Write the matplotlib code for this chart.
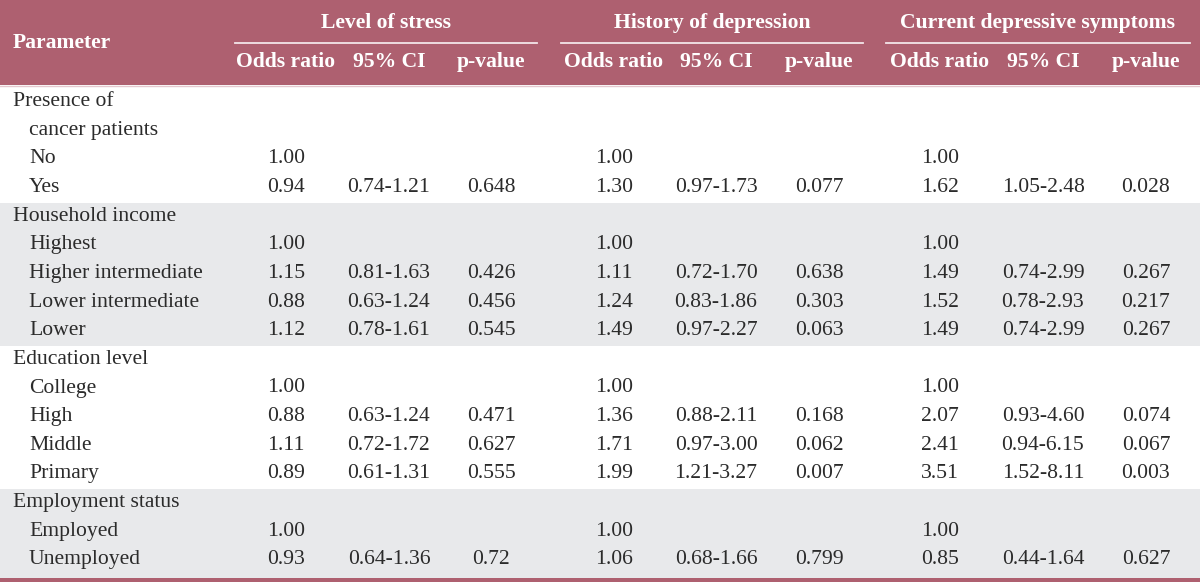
import matplotlib
matplotlib.use("Agg")
import matplotlib.pyplot as plt
from matplotlib.patches import Rectangle

# ---- data ----
groups = ["Level of stress", "History of depression", "Current depressive symptoms"]
subheads = ["Odds ratio", "95% CI", "p-value"]
row_labels = ["Presence of", "cancer patients", "No", "Yes",
              "Household income", "Highest", "Higher intermediate", "Lower intermediate", "Lower",
              "Education level", "College", "High", "Middle", "Primary",
              "Employment status", "Employed", "Unemployed"]
row_indent = [0, 1, 1, 1, 0, 1, 1, 1, 1, 0, 1, 1, 1, 1, 0, 1, 1]
row_band = [0, 0, 0, 0, 1, 1, 1, 1, 1, 0, 0, 0, 0, 0, 1, 1, 1]

stress_or = ["", "", "1.00", "0.94", "", "1.00", "1.15", "0.88", "1.12", "", "1.00", "0.88", "1.11", "0.89", "", "1.00", "0.93"]
stress_ci = ["", "", "", "0.74-1.21", "", "", "0.81-1.63", "0.63-1.24", "0.78-1.61", "", "", "0.63-1.24", "0.72-1.72", "0.61-1.31", "", "", "0.64-1.36"]
stress_p = ["", "", "", "0.648", "", "", "0.426", "0.456", "0.545", "", "", "0.471", "0.627", "0.555", "", "", "0.72"]

hist_or = ["", "", "1.00", "1.30", "", "1.00", "1.11", "1.24", "1.49", "", "1.00", "1.36", "1.71", "1.99", "", "1.00", "1.06"]
hist_ci = ["", "", "", "0.97-1.73", "", "", "0.72-1.70", "0.83-1.86", "0.97-2.27", "", "", "0.88-2.11", "0.97-3.00", "1.21-3.27", "", "", "0.68-1.66"]
hist_p = ["", "", "", "0.077", "", "", "0.638", "0.303", "0.063", "", "", "0.168", "0.062", "0.007", "", "", "0.799"]

curr_or = ["", "", "1.00", "1.62", "", "1.00", "1.49", "1.52", "1.49", "", "1.00", "2.07", "2.41", "3.51", "", "1.00", "0.85"]
curr_ci = ["", "", "", "1.05-2.48", "", "", "0.74-2.99", "0.78-2.93", "0.74-2.99", "", "", "0.93-4.60", "0.94-6.15", "1.52-8.11", "", "", "0.44-1.64"]
curr_p = ["", "", "", "0.028", "", "", "0.267", "0.217", "0.267", "", "", "0.074", "0.067", "0.003", "", "", "0.627"]

columns = [stress_or, stress_ci, stress_p, hist_or, hist_ci, hist_p, curr_or, curr_ci, curr_p]

# ---- layout ----
W, H = 1200, 582
HEAD = "#AE6070"
BAND = "#E8E9EB"
TXT = "#2b2b2b"
FONT = ["Liberation Serif", "DejaVu Serif"]
FS = 15.6

col_x = [286, 389, 491, 614, 716, 819, 940, 1043, 1146]
group_x = [(235, 537), (561, 863), (886, 1190)]
row_y0, row_dy = 101.5, 28.65
header_h = 85

fig = plt.figure(figsize=(W / 100, H / 100), dpi=100)
ax = fig.add_axes([0, 0, 1, 1])
ax.set_xlim(0, W)
ax.set_ylim(H, 0)
ax.axis("off")

ax.add_patch(Rectangle((0, 0), W, header_h, color=HEAD, lw=0))
ax.plot([0, W], [header_h + 0.5, header_h + 0.5], color="#E4C8CE", lw=1)

ax.text(13, 43, "Parameter", ha="left", va="center", color="white",
        fontsize=FS, fontweight="bold", family=FONT)
for g, (x0, x1) in zip(groups, group_x):
    ax.text((x0 + x1) / 2, 23, g, ha="center", va="center", color="white",
            fontsize=FS, fontweight="bold", family=FONT)
    ax.plot([x0, x1], [43, 43], color="#F3E6E9", lw=1.3)
for i, x in enumerate(col_x):
    ax.text(x, 62, subheads[i % 3], ha="center", va="center", color="white",
            fontsize=FS, fontweight="bold", family=FONT)

# bands
n = len(row_labels)
i = 0
while i < n:
    if row_band[i]:
        j = i
        while j < n and row_band[j]:
            j += 1
        top = row_y0 + (i - 0.5) * row_dy + 1
        bot = row_y0 + (j - 0.5) * row_dy + 1
        if j == n:
            bot = 578
        ax.add_patch(Rectangle((0, top), W, bot - top, color=BAND, lw=0))
        i = j
    else:
        i += 1

for r, lab in enumerate(row_labels):
    y = row_y0 + r * row_dy
    ax.text(13 + 16 * row_indent[r], y, lab, ha="left", va="center", color=TXT,
            fontsize=FS, family=FONT)
    for c, col in enumerate(columns):
        if col[r]:
            ax.text(col_x[c], y, col[r], ha="center", va="center", color=TXT,
                    fontsize=FS, family=FONT)

ax.add_patch(Rectangle((0, 578), W, 4, color=HEAD, lw=0))

fig.savefig("out.png", dpi=100)
